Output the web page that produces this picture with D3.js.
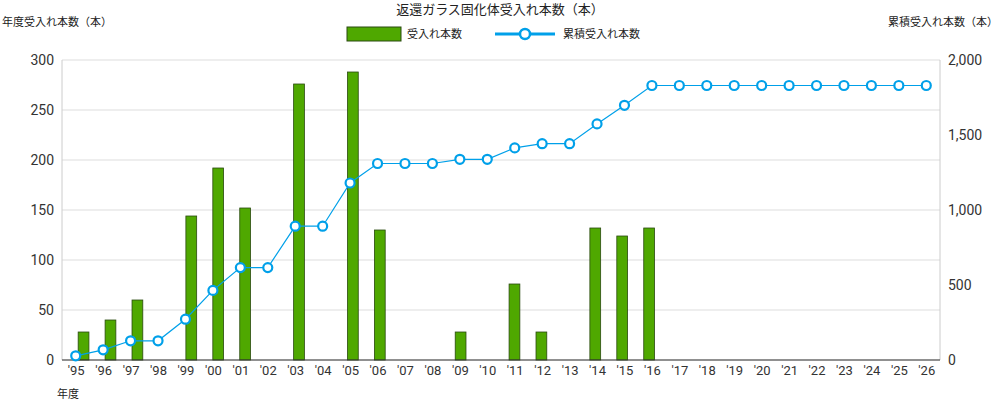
<!DOCTYPE html><html><head><meta charset="utf-8"><script src="https://cdn.jsdelivr.net/npm/d3@7"></script>
<style>body{margin:0;background:#fff}text{font-family:Roboto,"Noto Sans CJK JP",sans-serif}</style></head><body><svg width="1000" height="400"></svg>
<script>
const years=["'95","'96","'97","'98","'99","'00","'01","'02","'03","'04","'05","'06","'07","'08","'09","'10","'11","'12","'13","'14","'15","'16","'17","'18","'19","'20","'21","'22","'23","'24","'25","'26"];
const annual=[28,40,60,0,144,192,152,0,276,0,288,130,0,0,28,0,76,28,0,132,124,132,0,0,0,0,0,0,0,0,0,0];
const cumulative=[28,68,128,128,272,464,616,616,892,892,1180,1310,1310,1310,1338,1338,1414,1442,1442,1574,1698,1830,1830,1830,1830,1830,1830,1830,1830,1830,1830,1830];
const leftTicks=[0,50,100,150,200,250,300];
const rightTicks=[0,500,1000,1500,2000];
const svg=d3.select("svg");
const L=62,R=940,T=60,B=360;
const x=d3.scaleBand().domain(years).range([L,R]).padding(0.6);
const xp=d3.scalePoint().domain(years).range([L,R]).padding(0.5);
const y=d3.scaleLinear().domain([0,300]).range([B,T]);
const y2=d3.scaleLinear().domain([0,2000]).range([B,T]);
svg.append("g").selectAll("line").data(leftTicks).join("line").attr("x1",L).attr("x2",R).attr("y1",d=>y(d)).attr("y2",d=>y(d)).attr("stroke","#ddd");
svg.append("line").attr("x1",L).attr("x2",L).attr("y1",T).attr("y2",B).attr("stroke","#ccc");
svg.append("line").attr("x1",R).attr("x2",R).attr("y1",T).attr("y2",B).attr("stroke","#ccc");
svg.append("g").selectAll("rect").data(annual).join("rect").attr("x",(d,i)=>x(years[i])).attr("width",x.bandwidth()).attr("y",d=>y(d)).attr("height",d=>B-y(d)).attr("fill",d=>d?"#4fa800":"none").attr("stroke",d=>d?"#2a4a10":"none").attr("stroke-width",0.8);
svg.append("line").attr("x1",L).attr("x2",R).attr("y1",B).attr("y2",B).attr("stroke","#333");
const blue="#00a0e9";
svg.append("path").datum(cumulative).attr("d",d3.line().x((d,i)=>xp(years[i])).y(d=>y2(d))).attr("fill","none").attr("stroke",blue).attr("stroke-width",1.2);
svg.append("g").selectAll("circle").data(cumulative).join("circle").attr("cx",(d,i)=>xp(years[i])).attr("cy",d=>y2(d)).attr("r",4.5).attr("fill","#fff").attr("stroke",blue).attr("stroke-width",2.2);
const ax=svg.append("g").attr("transform",`translate(0,${B})`).call(d3.axisBottom(xp).tickSize(0).tickPadding(6));
ax.select(".domain").remove();ax.selectAll("text").attr("font-size",13).attr("fill","#333").attr("font-family","Roboto");
const ay=svg.append("g").attr("transform",`translate(${L},0)`).call(d3.axisLeft(y).tickValues(leftTicks).tickSize(0).tickPadding(8));
ay.select(".domain").remove();ay.selectAll("text").attr("font-size",14).attr("fill","#333").attr("font-family","Roboto");
const ay2=svg.append("g").attr("transform",`translate(${R},0)`).call(d3.axisRight(y2).tickValues(rightTicks).tickFormat(d3.format(",")).tickSize(0).tickPadding(8));
ay2.select(".domain").remove();ay2.selectAll("text").attr("font-size",14).attr("fill","#333").attr("font-family","Roboto");
const t=(xx,yy,s,sz,a)=>svg.append("text").attr("x",xx).attr("y",yy).attr("font-size",sz).attr("text-anchor",a||"start").attr("fill","#222").text(s);
t(500,14,"返還ガラス固化体受入れ本数（本）",13,"middle");
t(2,26,"年度受入れ本数（本）",11);
t(998,26,"累積受入れ本数（本）",11,"end");
t(57,398,"年度",11);
svg.append("rect").attr("x",347).attr("y",27).attr("width",54).attr("height",14).attr("fill","#4fa800").attr("stroke","#2a4a10");
t(407,38,"受入れ本数",11);
svg.append("line").attr("x1",495).attr("x2",555).attr("y1",34).attr("y2",34).attr("stroke",blue).attr("stroke-width",3);
svg.append("circle").attr("cx",525).attr("cy",34).attr("r",5).attr("fill","#fff").attr("stroke",blue).attr("stroke-width",2.5);
t(563,38,"累積受入れ本数",11);
</script></body></html>
